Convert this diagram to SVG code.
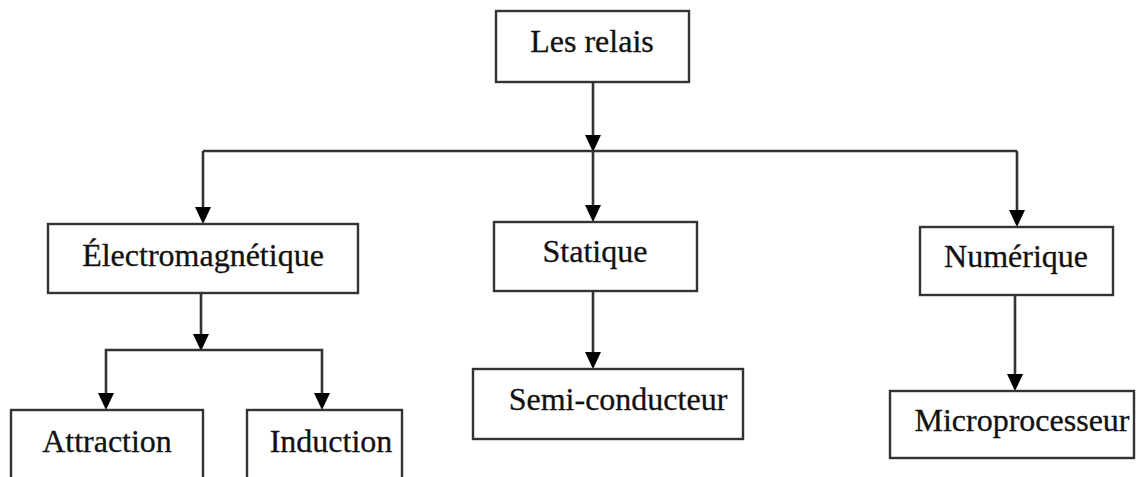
<svg xmlns="http://www.w3.org/2000/svg" width="1136" height="477" viewBox="0 0 1136 477">
<style>
.box{fill:#fff;stroke:#333;stroke-width:2.4}
.lbl{font-family:"Liberation Serif","Times New Roman",serif;font-size:32px;fill:#111;stroke:#111;stroke-width:0.3;text-anchor:middle}
.ln{fill:none;stroke:#333;stroke-width:2.6}
.ah{fill:#000}
</style>
<rect width="1136" height="477" fill="#fff"/>
<g id="connectors">
<line class="ln" x1="593" y1="82" x2="593" y2="140"/>
<path class="ah" d="M585,135 L601,135 L593,152 z"/>
<line class="ln" x1="203" y1="151" x2="1017" y2="151"/>
<line class="ln" x1="593" y1="151" x2="593" y2="208"/>
<path class="ah" d="M585,205 L601,205 L593,222 z"/>
<line class="ln" x1="203" y1="151" x2="203" y2="210"/>
<path class="ah" d="M195,207 L211,207 L203,224 z"/>
<line class="ln" x1="1017" y1="151" x2="1017" y2="213"/>
<path class="ah" d="M1009,210 L1025,210 L1017,227 z"/>
<line class="ln" x1="201" y1="293" x2="201" y2="340"/>
<path class="ah" d="M193,334 L209,334 L201,351 z"/>
<polyline class="ln" points="106,396 106,350 322,350 322,396"/>
<path class="ah" d="M98,393 L114,393 L106,410 z"/>
<path class="ah" d="M314,393 L330,393 L322,410 z"/>
<line class="ln" x1="593" y1="291" x2="593" y2="356"/>
<path class="ah" d="M585,352 L601,352 L593,369 z"/>
<line class="ln" x1="1015" y1="295" x2="1015" y2="378"/>
<path class="ah" d="M1007,374 L1023,374 L1015,391 z"/>
</g>
<g id="n-relais"><rect class="box" x="496" y="11" width="193" height="71"/><text class="lbl" x="592" y="52">Les relais</text></g>
<g id="n-electro"><rect class="box" x="48" y="224" width="310" height="69"/><text class="lbl" x="203" y="266">Électromagnétique</text></g>
<g id="n-statique"><rect class="box" x="494" y="222" width="203" height="69"/><text class="lbl" x="595" y="262">Statique</text></g>
<g id="n-numerique"><rect class="box" x="920" y="227" width="193" height="68"/><text class="lbl" x="1016" y="267">Numérique</text></g>
<g id="n-attraction"><rect class="box" x="11" y="410" width="192" height="80"/><text class="lbl" x="107" y="452">Attraction</text></g>
<g id="n-induction"><rect class="box" x="247" y="410" width="155" height="80"/><text class="lbl" x="331" y="452">Induction</text></g>
<g id="n-semi"><rect class="box" x="473" y="369" width="270" height="70"/><text class="lbl" x="618" y="410">Semi-conducteur</text></g>
<g id="n-micro"><rect class="box" x="890" y="391" width="244" height="67"/><text class="lbl" x="1022" y="431">Microprocesseur</text></g>
</svg>
